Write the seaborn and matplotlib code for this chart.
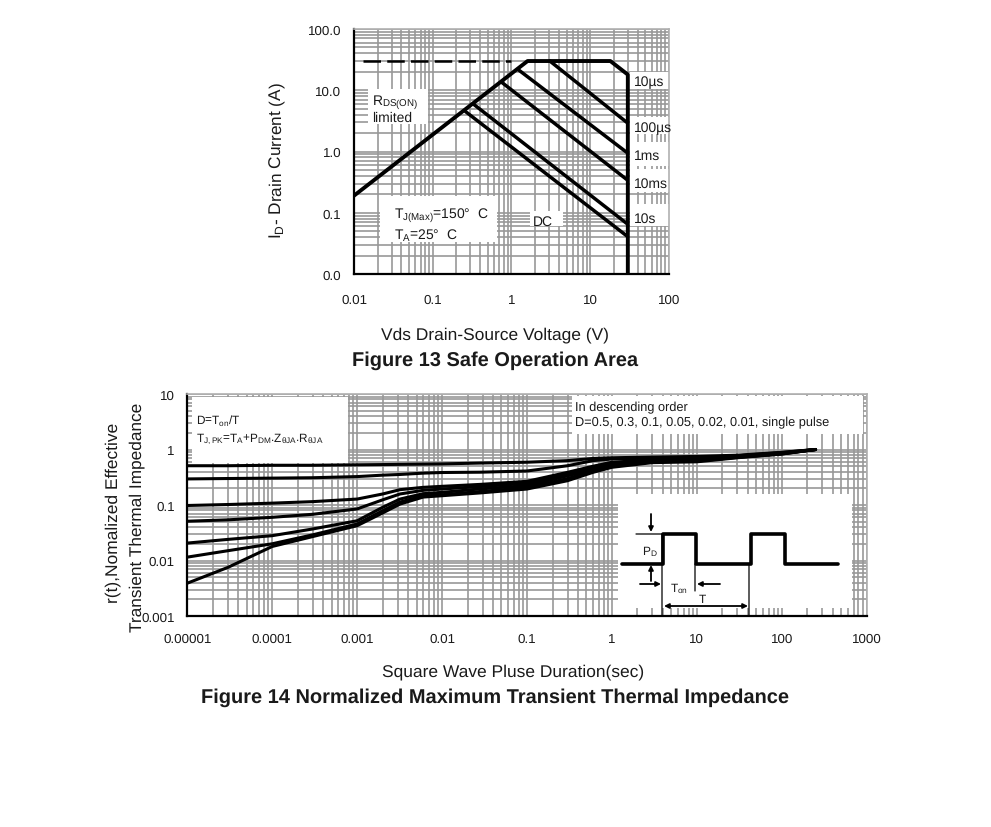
import matplotlib
matplotlib.use("Agg")
import matplotlib.pyplot as plt
from matplotlib.patches import Rectangle
from matplotlib.ticker import LogLocator, NullFormatter
import seaborn as sns

# Figure 13 - safe operation area
soa_xticks = [0.01, 0.1, 1, 10, 100]
soa_xlabels = ["0.01", "0.1", "1", "10", "100"]
soa_yticks = [0.01, 0.1, 1, 10, 100]
soa_ylabels = ["0.0", "0.1", "1.0", "10.0", "100.0"]

envelope_x = [0.01, 1.6, 18, 30, 30]
envelope_y = [0.19, 30, 30, 18, 0.01]
limit_x = [0.013, 1.0]
limit_y = [30, 30]
us10_x, us10_y = [3.07, 29], [30, 3.0]
us100_x, us100_y = [1.2, 29], [22, 0.97]
ms1_x, ms1_y = [0.75, 29], [13.5, 0.35]
ms10_x, ms10_y = [0.325, 29], [6, 0.067]
dc_x, dc_y = [0.26, 29], [4.5, 0.042]

# Figure 14 - transient thermal impedance
zth_xticks = [1e-5, 1e-4, 1e-3, 1e-2, 1e-1, 1, 10, 100, 1000]
zth_xlabels = ["0.00001", "0.0001", "0.001", "0.01", "0.1", "1", "10", "100", "1000"]
zth_yticks = [0.001, 0.01, 0.1, 1, 10]
zth_ylabels = ["0.001", "0.01", "0.1", "1", "10"]

pulse_time = [1e-5, 3e-5, 1e-4, 3e-4, 1e-3, 2e-3, 3.2e-3, 6e-3, 1e-2, 2.8e-2,
              0.1, 0.3, 0.6, 1, 3, 10, 30, 100, 250]
d_50 = [.51, .51, .52, .52, .53, .535, .54, .545, .55, .57, .59, .63, .69, .71, .73, .75, .79, .89, 1.0]
d_30 = [.295, .30, .305, .31, .325, .345, .355, .375, .385, .39, .41, .51, .63, .675, .70, .72, .77, .88, 1.0]
d_10 = [.098, .102, .108, .115, .128, .158, .189, .208, .217, .235, .267, .388, .50, .59, .65, .68, .75, .86, 1.0]
d_05 = [.051, .054, .06, .068, .085, .124, .158, .184, .194, .215, .245, .36, .48, .57, .63, .66, .74, .85, 1.0]
d_02 = [.0206, .024, .028, .037, .052, .091, .128, .16, .169, .195, .223, .335, .44, .54, .61, .64, .73, .84, 1.0]
d_01 = [.0115, .015, .02, .029, .0455, .079, .113, .147, .153, .175, .205, .30, .41, .51, .60, .62, .72, .83, 1.0]
single = [.0039, .0075, .0179, .027, .0424, .072, .104, .139, .147, .165, .194, .274, .388, .478, .58, .60, .71, .83, 1.0]

wave_x = [1.3, 4.03, 4.03, 9.9, 9.9, 43, 43, 109, 109, 463]
wave_y = [.00862, .00862, .0303, .0303, .00862, .00862, .0303, .0303, .00862, .00862]

W, H = 991, 828
GRID = "#989898"

sns.set_theme(style="white")
plt.rcParams["font.family"] = ["Liberation Sans", "DejaVu Sans"]
plt.rcParams["mathtext.default"] = "regular"
plt.rcParams["text.hinting"] = "no_hinting"

fig = plt.figure(figsize=(W / 100, H / 100), dpi=100)


def rect(x0, y0, x1, y1):
    return [x0 / W, 1 - y1 / H, (x1 - x0) / W, (y1 - y0) / H]


def fp(x, y):
    return x / W, 1 - y / H


def label(x, y, s, size=10, **kw):
    fig.text(*fp(x, y), s, fontsize=size, color="#1a1a1a", va="center", zorder=6, **kw)


def white_box(ax, x0, y0, x1, y1):
    ax.add_patch(Rectangle(fp(x0, y1), (x1 - x0) / W, (y1 - y0) / H, transform=fig.transFigure,
                           facecolor="white", edgecolor="none", zorder=1.5, clip_on=False))


def log_axes(ax, xlim, ylim, xticks, xlabels, yticks, ylabels, xpad):
    ax.set_xscale("log")
    ax.set_yscale("log")
    ax.set_xlim(xlim)
    ax.set_ylim(ylim)
    ax.set_xticks(xticks, xlabels)
    ax.set_yticks(yticks, ylabels)
    for axis in (ax.xaxis, ax.yaxis):
        axis.set_minor_locator(LogLocator(base=10, subs=range(2, 10), numticks=30))
        axis.set_minor_formatter(NullFormatter())
    ax.tick_params(which="both", length=0)
    ax.tick_params(which="major", labelsize=9.6, labelcolor="#1a1a1a", pad=9)
    ax.tick_params(axis="x", which="major", pad=xpad)
    ax.set_axisbelow(True)
    ax.grid(which="both", color=GRID, lw=1.2)
    for side in ("top", "right"):
        ax.spines[side].set_color("#b0b0b0")
        ax.spines[side].set_linewidth(1.2)
    for side in ("left", "bottom"):
        ax.spines[side].set_color("black")
        ax.spines[side].set_linewidth(1.6)


def curve(ax, x, y, lw=2.8, **kw):
    sns.lineplot(x=x, y=y, ax=ax, color="black", lw=lw, estimator=None, sort=False,
                 legend=False, **kw)


# top chart
ax1 = fig.add_axes(rect(354, 30, 669, 275))
log_axes(ax1, (0.01, 100), (0.01, 100), soa_xticks, soa_xlabels, soa_yticks, soa_ylabels, 14)

white_box(ax1, 368, 90, 428, 125)
white_box(ax1, 380, 197, 497, 243)
white_box(ax1, 530, 212, 563, 227)
white_box(ax1, 630, 73, 670, 90)
white_box(ax1, 630, 118, 670, 135)
white_box(ax1, 630, 143, 670, 167)
white_box(ax1, 630, 170, 670, 193)
white_box(ax1, 630, 205, 670, 227)

curve(ax1, envelope_x, envelope_y, lw=2.8)
sns.lineplot(x=limit_x, y=limit_y, ax=ax1, color="black", lw=1.8, estimator=None, sort=False,
             legend=False, linestyle=(0, (7, 2.5)))
for xs, ys in [(us10_x, us10_y), (us100_x, us100_y), (ms1_x, ms1_y), (ms10_x, ms10_y), (dc_x, dc_y)]:
    curve(ax1, xs, ys, lw=2.5)
ax1.set_xlabel("")
ax1.set_ylabel("")

label(372, 102, r"R$_{DS(ON)}$")
label(372, 118, "limited")
label(394, 216, r"T$_{J(Max)}$=150°  C")
label(394, 235, r"T$_{A}$=25°  C")
label(533, 222, "DC")
label(634, 82, "10µs")
label(634, 128, "100µs")
label(634, 156, "1ms")
label(634, 184, "10ms")
label(634, 219, "10s")

label(277, 161, r"I$_{D}$- Drain Current (A)", size=12.4, rotation=90, ha="center")
label(495, 335, "Vds Drain-Source Voltage (V)", size=12.5, ha="center")
label(495, 361, "Figure 13 Safe Operation Area", size=14.4, ha="center", fontweight="bold")

# bottom chart
ax2 = fig.add_axes(rect(187.3, 395, 866.7, 617))
log_axes(ax2, (1e-5, 1000), (0.001, 10), zth_xticks, zth_xlabels, zth_yticks, zth_ylabels, 12)

white_box(ax2, 192, 398, 348, 464)
white_box(ax2, 572, 397, 863, 435)
white_box(ax2, 618, 495, 852, 609)

for ys in (d_50, d_30, d_10, d_05, d_02, d_01, single):
    curve(ax2, pulse_time, ys, lw=2.2)
curve(ax2, wave_x, wave_y, lw=2.6)
ax2.set_xlabel("")
ax2.set_ylabel("")

# thin guide lines and arrows of the pulse sketch
for a, b in [((636, 535), (663, 535)), ((662, 535), (662, 617)), ((749, 565), (749, 617)),
             ((695, 565), (695, 592))]:
    ax2.annotate("", xy=fp(*b), xytext=fp(*a), xycoords="figure fraction",
                 arrowprops=dict(arrowstyle="-", color="black", lw=0.9, shrinkA=0, shrinkB=0), zorder=4)
for a, b, style in [((651, 515), (651, 533), "-|>"), ((651, 582), (651, 566), "-|>"),
                    ((640, 585), (661, 585), "-|>"), ((720, 585), (697, 585), "-|>"),
                    ((664, 607), (748, 607), "<|-|>")]:
    ax2.annotate("", xy=fp(*b), xytext=fp(*a), xycoords="figure fraction",
                 arrowprops=dict(arrowstyle=style, color="black", lw=1.3, shrinkA=0, shrinkB=0,
                                 mutation_scale=7), zorder=4)

label(642, 552, r"P$_{D}$", size=8.6)
label(670, 589, r"T$_{on}$", size=8.6)
label(699, 600, "T", size=8.6)

label(196, 421, r"D=T$_{on}$/T", size=8.5)
label(196, 439, r"T$_{J,PK}$=T$_{A}$+P$_{DM}$.Z$_{θJA}$.R$_{θJA}$", size=8.5)
label(575, 408, "In descending order", size=9.2)
label(575, 423, "D=0.5, 0.3, 0.1, 0.05, 0.02, 0.01, single pulse", size=9.2)

label(113, 513, "r(t),Nomalized Effective", size=12.5, rotation=90, ha="center")
label(137, 517, "Transient Thermal Impedance", size=12.4, rotation=90, ha="center")
label(513, 672, "Square Wave Pluse Duration(sec)", size=12.5, ha="center")
label(495, 698, "Figure 14 Normalized Maximum Transient Thermal Impedance", size=14.4, ha="center", fontweight="bold")

fig.savefig("out.png", dpi=100, facecolor="white")
